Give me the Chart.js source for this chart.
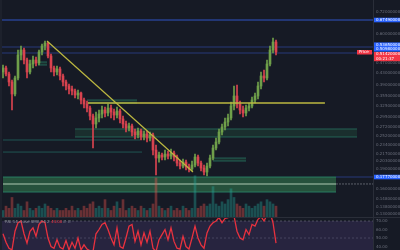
<!DOCTYPE html>
<html>
<head>
<meta charset="utf-8">
<script src="https://cdn.jsdelivr.net/npm/chart.js@4.4.1/dist/chart.umd.min.js"></script>
<style>
  html, body { margin: 0; padding: 0; background: #161a25; width: 400px; height: 250px; overflow: hidden; }
  #wrap { position: relative; width: 400px; height: 250px; }
  #main { position: absolute; left: 0; top: 0; }
  #rsi { position: absolute; left: 0; top: 217px; }
  #edge { position: absolute; left: 0; top: 0; width: 2px; height: 250px; background: #1d212c; }
</style>
</head>
<body>
<div id="wrap">
  <canvas id="main" width="400" height="217"></canvas>
  <canvas id="rsi" width="400" height="33"></canvas>
  <div id="edge"></div>
</div>
<script>
/* DATA */
const openP = [.4339,.4488,.4266,.3985,.3599,.4123,.5013,.5230,.4804,.4339,
  .4644,.4804,.4683,.5142,.5411,.5551,.4970,.4488,.4339,.4451,
  .4194,.3985,.3852,.3755,.3692,.3568,.3629,.3419,.3305,.3194,
  .2985,.2789,.2935,.3036,.3141,.3062,.3194,.3088,.3010,.3114,
  .2910,.2789,.2695,.2742,.2605,.2540,.2628,.2497,.2561,.2476,
  .2540,.2235,.2088,.2142,.2106,.2160,.2124,.2179,.2106,.2001,
  .1951,.2018,.1935,.1902,.1968,.2106,.2001,.1918,.1854,.1951,
  .2088,.2274,.2393,.2605,.2718,.2836,.2935,.3249,.3538,.3305,
  .3141,.3062,.3194,.3249,.3419,.3538,.3852,.4194,.4123,.4644,
  .5230,.5598];
const closeP = [.4488,.4266,.3985,.3599,.4123,.5013,.5230,.4804,.4339,.4644,
  .4804,.4683,.5142,.5411,.5551,.4970,.4488,.4339,.4451,.4194,
  .3985,.3852,.3755,.3692,.3568,.3629,.3419,.3305,.3194,.2985,
  .2789,.2935,.3036,.3141,.3062,.3194,.3088,.3010,.3114,.2910,
  .2789,.2695,.2742,.2605,.2540,.2628,.2497,.2561,.2476,.2540,
  .2235,.2088,.2142,.2106,.2160,.2124,.2179,.2106,.2001,.1951,
  .2018,.1935,.1902,.1968,.2106,.2001,.1918,.1854,.1951,.2088,
  .2274,.2393,.2605,.2718,.2836,.2935,.3249,.3538,.3305,.3141,
  .3062,.3194,.3249,.3419,.3538,.3852,.4194,.4123,.4644,.5230,
  .5598,.5142];
const highP = [.4604,.4565,.4339,.4053,.4194,.5230,.5411,.5320,.4886,.4804,
  .4970,.4928,.5230,.5504,.5646,.5598,.5055,.4565,.4565,.4527,
  .4266,.4053,.3918,.3852,.3755,.3723,.3660,.3478,.3390,.3249,
  .3036,.3088,.3141,.3249,.3222,.3305,.3277,.3167,.3222,.3167,
  .2985,.2861,.2812,.2789,.2673,.2695,.2673,.2628,.2628,.2605,
  .2583,.2333,.2197,.2179,.2235,.2216,.2255,.2216,.2142,.2053,
  .2071,.2053,.1984,.2036,.2160,.2142,.2036,.1968,.2001,.2142,
  .2333,.2476,.2673,.2789,.2935,.3036,.3361,.3852,.3884,.3390,
  .3249,.3277,.3333,.3508,.3629,.3985,.4339,.4413,.4804,.5411,
  .5792,.5694];
const lowP = [.4123,.4194,.3852,.3141,.3538,.4053,.4804,.4644,.4123,.4266,
  .4488,.4565,.4604,.5013,.5230,.4886,.4339,.4194,.4229,.4053,
  .3852,.3723,.3599,.3568,.3478,.3449,.3305,.3194,.3088,.2885,
  .2274,.2695,.2836,.2935,.2960,.2985,.2935,.2885,.2935,.2812,
  .2695,.2605,.2628,.2518,.2455,.2476,.2434,.2434,.2393,.2413,
  .2142,.1808,.2018,.2053,.2053,.2071,.2071,.2036,.1951,.1902,
  .1918,.1886,.1854,.1870,.1935,.1951,.1870,.1808,.1792,.1918,
  .2053,.2235,.2353,.2540,.2650,.2742,.2885,.3141,.3194,.3036,
  .2960,.2985,.3114,.3194,.3333,.3449,.3755,.3985,.4053,.4565,
  .5098,.5013];
const volume = [3,5,4,9,4, 6,5,3,7,4, 3,4,5,4,6, 5,4,3,4,3,
  3,4,3,5,3, 4,3,5,4,6, 7,4,5,4,8, 4,3,5,7,4,
  8,3,4,5,4, 3,5,4,3,4, 6,18,5,4,3, 4,5,3,4,3,
  5,4,3,4,19, 4,5,6,5,6, 14,6,5,7,6, 8,13,9,6,5,
  4,6,5,4,5, 6,7,5,8,7, 6,5];
const rsi = [55,45,38,36,58, 68,70,55,44,58, 62,52,66,70,68, 50,40,38,48,39,
  37,47,36,45,38, 50,36,42,37,35, 34,55,60,66,68, 60,50,42,62,40,
  38,50,64,66,46, 58,42,56,45,58, 38,34,48,54,60, 48,62,46,38,37,
  52,40,37,50,64, 50,42,38,56,64, 68,70,74,68,73, 74,78,76,58,50,
  48,60,54,66,64, 72,75,70,77,80, 68,44];

const priceTicks = [0.72, 0.60, 0.53, 0.47, 0.43, 0.39, 0.355, 0.325, 0.295, 0.272,
  0.252, 0.234, 0.217, 0.203, 0.19, 0.16, 0.148, 0.138, 0.13];
const rsiTicks = [70, 60, 50, 40];

const blueLevels = [0.6749, 0.5365, 0.5098];
const yellowLevel = 0.3333, yellowSpan = [28.3, 107.3];
const trendPts = [[14.67, 0.5646], [63.33, 0.1854]];
const tealLevels = [0.2434, 0.2197], tealEnds = [45.67, 46.33];
// zones: [x from, x to, top price, bottom price]
const bigZone = [0, 111, 0.1777, 0.1564];
const boxes = [
  [24, 118, 0.2673, 0.2497],
  [70, 81, 0.2088, 0.2036],
  [11.67, 14.67, 0.4723, 0.4604],
  [28, 44.67, 0.3419, 0.3333]
];
const stripe = [0, 111, 0.1689, 0.1660];
const greyLevel = 0.1675, greySpan = [111, 123.33];
const zoneLineLevel = 0.1777;

const X0 = -1, X1 = 123.33;
const UP = "#6f9f4a", DOWN = "#d9434f";
const TXT = "#6b6f7c";

function seg(x0, x1, p) { return [{ x: x0, y: p }, { x: x1, y: p }]; }
function lineDs(data, color, extra) {
  return Object.assign({ type: "line", data, borderColor: color, borderWidth: 1,
    pointRadius: 0, fill: false, order: 5 }, extra || {});
}
function box(z, border, fillCol, order) {
  return [
    lineDs(seg(z[0], z[1], z[2]), border, { order }),
    lineDs(seg(z[0], z[1], z[3]), border, { order, fill: "-1", backgroundColor: fillCol })
  ];
}

/* MAIN PANE */
const datasets = [];
datasets.push(...box(bigZone, "rgba(40,140,110,0.8)", "rgba(52,128,80,0.55)", 20));
datasets.push(...box(stripe, "rgba(0,0,0,0)", "rgba(190,215,190,0.45)", 19));
boxes.forEach(z => datasets.push(...box(z, "rgba(40,120,100,0.75)", "rgba(35,95,70,0.3)", 20)));

blueLevels.forEach((p, i) => {
  datasets.push(lineDs(seg(X0, X1, p), i === 0 ? "#2f52c4" : "#26387a", { borderWidth: i === 0 ? 1.2 : 1 }));
});
tealLevels.forEach((p, i) => datasets.push(lineDs(seg(0, tealEnds[i], p), "#1f5652")));
datasets.push(lineDs(seg(greySpan[0], greySpan[1], greyLevel), "#5d606b", { borderDash: [2, 1] }));
datasets.push(lineDs(seg(greySpan[0], greySpan[1], zoneLineLevel), "#26387a"));
datasets.push(lineDs(seg(yellowSpan[0], yellowSpan[1], yellowLevel), "#bdb840", { borderWidth: 1.5, order: 0 }));
datasets.push(lineDs(trendPts.map(p => ({ x: p[0], y: p[1] })), "#bdb840", { order: 0, borderWidth: 1.2 }));

const candleColors = closeP.map((c, i) => c >= openP[i] ? UP : DOWN);
datasets.push({
  type: "bar", data: volume.map((v, i) => ({ x: i, y: v })), yAxisID: "yv",
  backgroundColor: candleColors.map(c => c === UP ? "rgba(38,166,154,0.38)" : "rgba(239,83,80,0.38)"),
  barThickness: 2, grouped: false, order: 15
});
datasets.push({
  type: "bar", data: lowP.map((l, i) => ({ x: i, y: [l, highP[i]] })),
  backgroundColor: candleColors, barThickness: 1, grouped: false, order: 2
});
datasets.push({
  type: "bar", data: openP.map((o, i) => ({ x: i, y: [o, closeP[i]] })),
  backgroundColor: candleColors, barThickness: 2, grouped: false, minBarLength: 1, order: 1
});

function fixAxis(scale) {
  scale.width = 27;
  scale.paddingTop = 0;
  scale.paddingBottom = 0;
}

const tagPlugin = {
  id: "tags",
  afterDraw(chart) {
    const c = chart.ctx, y = chart.scales.y, right = chart.chartArea.right;
    const last = closeP[closeP.length - 1];
    const tags = [
      { v: blueLevels[0], col: "#2962ff", lines: [blueLevels[0].toFixed(8)] },
      { v: blueLevels[1], col: "#2962ff", lines: [blueLevels[1].toFixed(8), blueLevels[2].toFixed(8)] },
      { v: last, col: "#f23645", lines: [last.toFixed(8), "00:21:37"], top: true },
      { v: zoneLineLevel, col: "#2962ff", lines: [zoneLineLevel.toFixed(8)] }
    ];
    c.save();
    c.font = "4px 'DejaVu Sans'";
    c.textBaseline = "middle";
    tags.forEach(t => {
      const py = y.getPixelForValue(t.v);
      const h = 4.6 * t.lines.length;
      const top = t.top ? py : py - h / 2;
      c.fillStyle = t.col;
      c.fillRect(right + 1, top, 26, h);
      c.fillStyle = "#ffffff";
      t.lines.forEach((s, k) => c.fillText(s, right + 3, top + 2.3 + k * 4.6));
    });
    const py = y.getPixelForValue(last);
    c.fillStyle = "#f23645";
    c.fillRect(right - 16, py - 2, 15, 4.5);
    c.fillStyle = "#ffffff";
    c.fillText("Price", right - 14, py + 0.3);
    c.restore();
  }
};

new Chart(document.getElementById("main"), {
  type: "bar",
  data: { datasets },
  plugins: [tagPlugin],
  options: {
    responsive: false, animation: false,
    layout: { padding: 0 },
    plugins: { legend: { display: false }, tooltip: { enabled: false } },
    scales: {
      x: { type: "linear", min: X0, max: X1, offset: false, display: false },
      y: {
        type: "logarithmic", position: "right", min: 0.1265, max: 0.80,
        afterFit: fixAxis,
        afterBuildTicks(s) { s.ticks = priceTicks.map(v => ({ value: v })); },
        ticks: { autoSkip: false, color: TXT, font: { size: 4, family: "DejaVu Sans" }, padding: 3,
          callback: v => Number(v).toFixed(8) },
        grid: { display: false, drawTicks: false },
        border: { color: "#2a2e39" }
      },
      yv: { type: "linear", min: 0, max: 100, display: false }
    }
  }
});

/* RSI PANE */
const rsiHeader = {
  id: "rsiHeader",
  afterDraw(chart) {
    const c = chart.ctx;
    c.save();
    c.fillStyle = "#2a2e39";
    c.fillRect(0, 0, 400, 1);
    c.font = "4px 'DejaVu Sans'";
    c.textBaseline = "middle";
    c.fillStyle = "#8a8d98";
    const head = "RSI 14 close SMA 14 2 ";
    c.fillText(head, 5, 5);
    c.fillStyle = "#f23645";
    const w = c.measureText(head).width;
    c.fillText(rsi[rsi.length - 1].toFixed(2), 5 + w, 5);
    c.fillStyle = "#8a8d98";
    c.fillText("\u2205 \u2205", 5 + w + 12, 5);
    c.restore();
  }
};

new Chart(document.getElementById("rsi"), {
  type: "line",
  data: {
    datasets: [
      lineDs(seg(X0, X1, 70), "rgba(120,123,134,0.55)", { borderDash: [2, 2] }),
      lineDs(seg(X0, X1, 30), "rgba(0,0,0,0)", { fill: "-1", backgroundColor: "rgba(126,87,194,0.17)" }),
      lineDs(seg(X0, X1, 50), "rgba(120,123,134,0.4)", { borderDash: [2, 2] }),
      lineDs(rsi.map((v, i) => ({ x: i, y: v })), "#e8323f", { order: 0, borderWidth: 1.3 })
    ]
  },
  plugins: [rsiHeader],
  options: {
    responsive: false, animation: false,
    layout: { padding: 0 },
    plugins: { legend: { display: false }, tooltip: { enabled: false } },
    scales: {
      x: { type: "linear", min: X0, max: X1, display: false },
      y: {
        position: "right", min: 35.9, max: 74.7,
        afterFit: fixAxis,
        afterBuildTicks(s) { s.ticks = rsiTicks.map(v => ({ value: v })); },
        ticks: { autoSkip: false, color: TXT, font: { size: 4, family: "DejaVu Sans" }, padding: 3,
          callback: v => Number(v).toFixed(2) },
        grid: { display: false, drawTicks: false },
        border: { color: "#2a2e39" }
      }
    }
  }
});
</script>
</body>
</html>
